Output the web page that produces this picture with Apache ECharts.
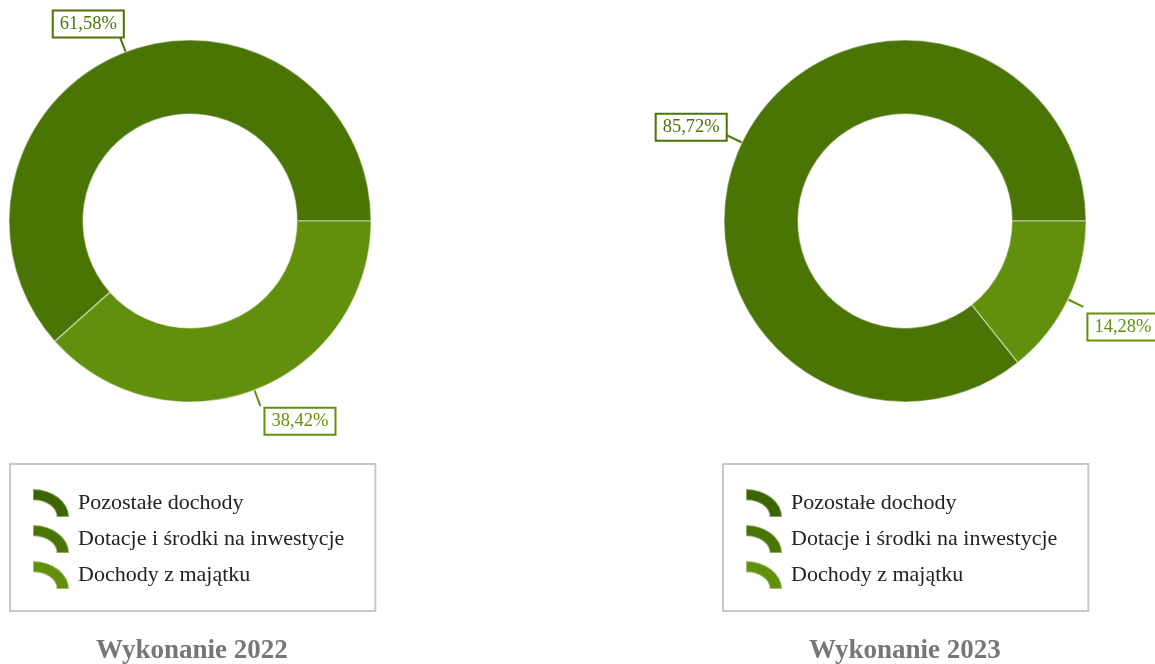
<!DOCTYPE html>
<html>
<head>
<meta charset="utf-8">
<script src="https://cdn.jsdelivr.net/npm/echarts@6/dist/echarts.min.js"></script>
<style>html,body{margin:0;padding:0;background:#fff}#c{width:1155px;height:664px}</style>
</head>
<body>
<div id="c"></div>
<script>
var categories = ['Pozostałe dochody', 'Dotacje i środki na inwestycje', 'Dochody z majątku'];
var values2022 = [0, 61.58, 38.42];
var values2023 = [0, 85.72, 14.28];
var titles = ['Wykonanie 2022', 'Wykonanie 2023'];
var colors = ['#3d6402', '#4a7504', '#62900c'];

var FONT = '"Liberation Serif", "Times New Roman", serif';
var ICON = 'path://M0 0 A128 100 0 0 1 128 100 L84 100 A84 60 0 0 0 0 40 Z';

function buildData(vals) {
  return categories.map(function (name, i) {
    return {
      name: name,
      value: vals[i],
      itemStyle: { color: colors[i] },
      label: { color: colors[i], borderColor: colors[i] }
    };
  });
}

function pieSeries(vals, cx) {
  return {
    type: 'pie',
    center: [cx, 221],
    radius: [107, 181],
    startAngle: 0,
    clockwise: false,
    minShowLabelAngle: 0.5,
    avoidLabelOverlap: false,
    itemStyle: { borderColor: 'rgba(255,255,255,0.4)', borderWidth: 1.5 },
    emphasis: { scale: false },
    label: {
      show: true,
      formatter: function (p) { return p.value.toFixed(2).replace('.', ',') + '%'; },
      fontFamily: FONT,
      fontSize: 18.5,
      backgroundColor: '#fff',
      borderWidth: 2,
      padding: [4, 6, 2, 6],
      distance: 0
    },
    labelLine: { show: true, length: 17, length2: 0, lineStyle: { width: 2 } },
    labelLayout: function (p) {
      var pts = p.labelLinePoints;
      if (!pts) return {};
      var a = pts[0], b = pts[1];
      var dx0 = b[0] - a[0], dy0 = b[1] - a[1];
      var len = Math.sqrt(dx0 * dx0 + dy0 * dy0) || 1;
      var s = Math.abs(dy0) / len;
      var up = dy0 < 0;
      var h = p.labelRect.height / 2;
      var right = dx0 > 0;
      return {
        dy: (up ? -h + 2 * s : h) + 10 * (1 - s),
        dx: right ? 0 : 3 + 6 * s * s
      };
    },
    data: buildData(vals)
  };
}

function legend(left) {
  return {
    orient: 'vertical',
    left: left,
    top: 464,
    data: categories,
    icon: ICON,
    symbolKeepAspect: false,
    itemWidth: 36,
    itemHeight: 28,
    itemGap: 6,
    borderColor: '#c8c8c8',
    borderWidth: 2,
    padding: [24, 31, 21, 22],
    textStyle: { fontFamily: FONT, fontSize: 22, color: '#222', padding: [0, 0, 0, 4], lineHeight: 28 },
    selectedMode: false
  };
}

var chart = echarts.init(document.getElementById('c'), null, { renderer: 'canvas' });
chart.setOption({
  animation: false,
  title: [
    { text: titles[0], left: 91, top: 633,
      textStyle: { fontFamily: FONT, fontSize: 27, fontWeight: 'bold', color: '#777' } },
    { text: titles[1], left: 804, top: 633,
      textStyle: { fontFamily: FONT, fontSize: 27, fontWeight: 'bold', color: '#777' } }
  ],
  legend: [legend(10), legend(723)],
  series: [pieSeries(values2022, 190), pieSeries(values2023, 905)]
});
</script>
</body>
</html>
